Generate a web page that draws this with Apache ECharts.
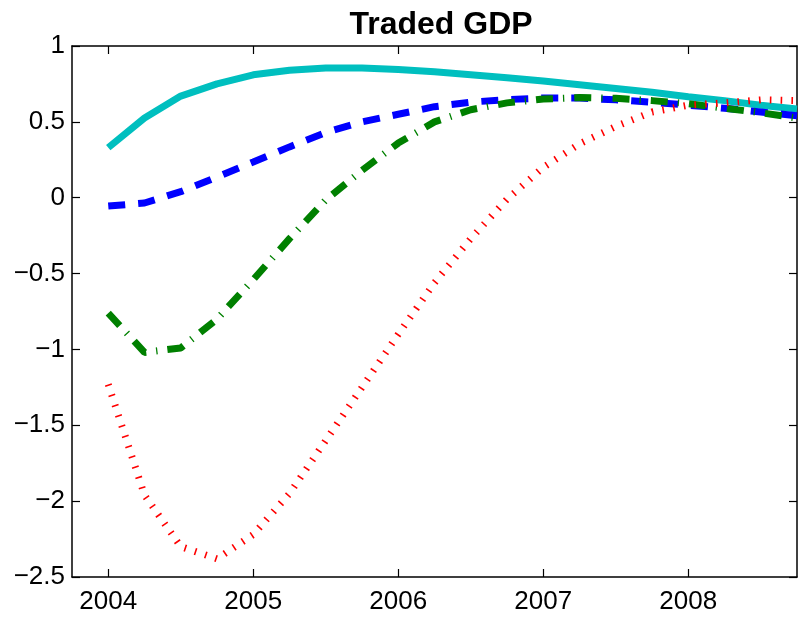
<!DOCTYPE html>
<html>
<head>
<meta charset="utf-8">
<script src="https://cdn.jsdelivr.net/npm/echarts@6/dist/echarts.min.js"></script>
<style>
html, body { margin: 0; padding: 0; background: #fff; }
#main { width: 798px; height: 618px; }
</style>
</head>
<body>
<div id="main"></div>
<script>
// quarterly dates
var quarters = [2004, 2004.25, 2004.5, 2004.75, 2005, 2005.25, 2005.5, 2005.75,
  2006, 2006.25, 2006.5, 2006.75, 2007, 2007.25, 2007.5, 2007.75,
  2008, 2008.25, 2008.5, 2008.75];
var yearTicks = [2004, 2005, 2006, 2007, 2008];

var solidCyan = [0.33, 0.525, 0.67, 0.75, 0.81, 0.84, 0.855, 0.855, 0.845, 0.83,
  0.81, 0.79, 0.77, 0.745, 0.72, 0.695, 0.665, 0.64, 0.61, 0.585];
var dashBlue = [-0.055, -0.035, 0.04, 0.136, 0.235, 0.335, 0.43, 0.50, 0.55, 0.60,
  0.63, 0.647, 0.657, 0.657, 0.645, 0.63, 0.61, 0.59, 0.565, 0.54];
var dashDotGreen = [-0.76, -1.02, -0.99, -0.80, -0.54, -0.27, -0.015, 0.18, 0.36, 0.50,
  0.58, 0.625, 0.65, 0.66, 0.655, 0.64, 0.62, 0.59, 0.56, 0.525];
var dottedRed = [-1.23, -1.96, -2.30, -2.38, -2.22, -1.95, -1.60, -1.25, -0.90, -0.56,
  -0.27, -0.01, 0.20, 0.355, 0.47, 0.565, 0.61, 0.625, 0.645, 0.64];

function pairs(ys) {
  return quarters.map(function (q, i) { return [q, ys[i]]; });
}

var chart = echarts.init(document.getElementById('main'));
var font = 'Liberation Sans, Arial, Helvetica, sans-serif';
var axisLine = { show: true, onZero: false, lineStyle: { color: '#000', width: 1.5 } };

var option = {
  animation: false,
  title: {
    text: 'Traded GDP',
    left: 436,
    textAlign: 'center',
    top: 4,
    textStyle: { fontFamily: font, fontSize: 32, fontWeight: 'bold', color: '#000' }
  },
  grid: { left: 72, right: 1, top: 46, bottom: 41 },
  xAxis: [{
    type: 'value',
    min: 2003.75,
    max: 2008.75,
    axisLine: axisLine,
    axisTick: { inside: true, length: 8, customValues: yearTicks, lineStyle: { color: '#000', width: 1.2 } },
    axisLabel: {
      customValues: yearTicks, fontFamily: font, fontSize: 26, color: '#000', margin: 12,
      formatter: function (v) { return String(v); }
    },
    splitLine: { show: false }
  }, {
    type: 'value',
    position: 'top',
    min: 2003.75,
    max: 2008.75,
    axisLine: axisLine,
    axisTick: { inside: true, length: 8, customValues: yearTicks, lineStyle: { color: '#000', width: 1.2 } },
    axisLabel: { show: false },
    splitLine: { show: false }
  }],
  yAxis: [{
    type: 'value',
    min: -2.5,
    max: 1,
    interval: 0.5,
    axisLine: axisLine,
    axisTick: { inside: true, length: 8, lineStyle: { color: '#000', width: 1.2 } },
    axisLabel: {
      fontFamily: font, fontSize: 26, color: '#000', margin: 7,
      formatter: function (v) { return String(v).replace('-', '\u2212'); }
    },
    splitLine: { show: false }
  }, {
    type: 'value',
    position: 'right',
    min: -2.5,
    max: 1,
    interval: 0.5,
    axisLine: axisLine,
    axisTick: { inside: true, length: 8, lineStyle: { color: '#000', width: 1.2 } },
    axisLabel: { show: false },
    splitLine: { show: false }
  }],
  series: [
    {
      type: 'line', data: pairs(solidCyan), showSymbol: false,
      lineStyle: { color: '#00bfbf', width: 7 }
    },
    {
      type: 'line', data: pairs(dashBlue), showSymbol: false,
      lineStyle: { color: '#0000ff', width: 7, type: [17, 13] }
    },
    {
      type: 'line', data: pairs(dashDotGreen), showSymbol: false,
      lineStyle: { color: '#008000', width: 7, type: [17, 10, 1.3, 10] }
    },
    {
      type: 'line', data: pairs(dottedRed), showSymbol: false,
      lineStyle: { color: '#ff0000', width: 7, type: [1.6, 9.2] }
    }
  ]
};

chart.setOption(option);
</script>
</body>
</html>
